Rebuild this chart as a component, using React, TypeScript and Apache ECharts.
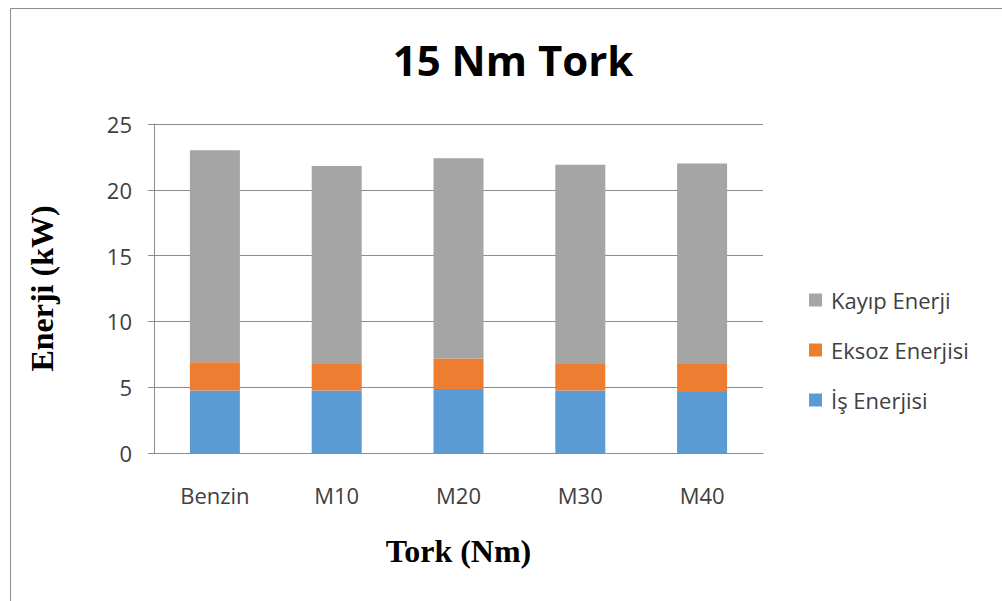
import React, { useEffect, useRef } from "react";
import * as echarts from "echarts";

const categories = ["Benzin", "M10", "M20", "M30", "M40"];
const isEnerjisi = [4.74, 4.74, 4.87, 4.74, 4.64];
const eksozEnerjisi = [2.15, 2.02, 2.32, 2.02, 2.12];
const kayipEnerji = [16.11, 15.04, 15.21, 15.14, 15.24];
const seriesNames = ["İş Enerjisi", "Eksoz Enerjisi", "Kayıp Enerji"];
const colors = ["#5B9BD5", "#ED7D31", "#A5A5A5"];

export default function App() {
  const ref = useRef<HTMLDivElement>(null);
  useEffect(() => {
    if (!ref.current) return;
    const chart = echarts.init(ref.current, undefined, { renderer: "svg" });
    const labelFont = "Open Sans";
    chart.setOption({
      animation: false,
      backgroundColor: "#ffffff",
      title: {
        text: "15 Nm Tork",
        left: 508,
        top: 33,
        textAlign: "center",
        textStyle: { fontFamily: "Open Sans", fontWeight: "bold", fontSize: 42, color: "#000" },
      },
      graphic: [
        {
          type: "polyline",
          shape: { points: [[10.5, 610], [10.5, 8.5], [1010, 8.5]] },
          style: { stroke: "#8c8c8c", fill: "none", lineWidth: 1 },
        },
      ],
      legend: {
        orient: "vertical",
        left: 804,
        top: 284,
        itemGap: 28,
        itemWidth: 13,
        itemHeight: 13,
        icon: "rect",
        data: [seriesNames[2], seriesNames[1], seriesNames[0]],
        textStyle: { fontFamily: labelFont, fontSize: 22, color: "#404040", padding: [0, 0, 0, 4] },
      },
      grid: { left: 154, right: 239, top: 124, bottom: 148, containLabel: false },
      xAxis: {
        type: "category",
        data: categories,
        name: "Tork (Nm)",
        nameLocation: "middle",
        nameGap: 82,
        nameTextStyle: { fontFamily: "Liberation Serif", fontWeight: "bold", fontSize: 32, color: "#000" },
        axisLine: { lineStyle: { color: "#8c8c8c", width: 1 } },
        axisTick: { show: false },
        axisLabel: { fontFamily: labelFont, fontSize: 22, color: "#404040", margin: 31 },
      },
      yAxis: {
        type: "value",
        min: 0,
        max: 25,
        interval: 5,
        name: "Enerji (kW)",
        nameLocation: "middle",
        nameGap: 96,
        nameRotate: 90,
        nameTextStyle: { fontFamily: "Liberation Serif", fontWeight: "bold", fontSize: 32, color: "#000" },
        axisLine: { show: true, lineStyle: { color: "#8c8c8c", width: 1 } },
        axisTick: { show: true, length: 6, inside: false, lineStyle: { color: "#8c8c8c" } },
        axisLabel: { fontFamily: labelFont, fontSize: 22, color: "#404040", margin: 22 },
        splitLine: { lineStyle: { color: "#8c8c8c", width: 1 } },
      },
      series: [
        { name: seriesNames[0], type: "bar", stack: "t", data: isEnerjisi, barWidth: 50, itemStyle: { color: colors[0] } },
        { name: seriesNames[1], type: "bar", stack: "t", data: eksozEnerjisi, barWidth: 50, itemStyle: { color: colors[1] } },
        { name: seriesNames[2], type: "bar", stack: "t", data: kayipEnerji, barWidth: 50, itemStyle: { color: colors[2] } },
      ],
    });
    return () => chart.dispose();
  }, []);
  return <div ref={ref} style={{ position: "fixed", left: 0, top: 0, width: 1002, height: 601 }} />;
}
